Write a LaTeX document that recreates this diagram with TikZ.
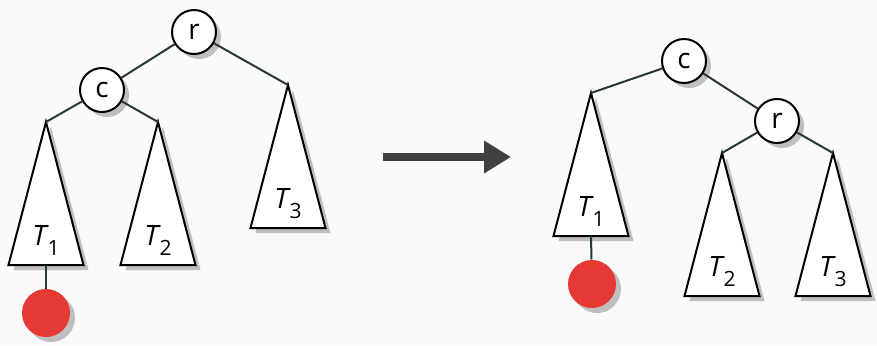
\documentclass[tikz,border=0pt]{standalone}
\usepackage{fontspec}
\setmainfont{Open Sans}
\usepackage{xcolor}
\usepackage{tikz}
\usetikzlibrary{arrows.meta, calc, shadows}

\definecolor{bgcol}{HTML}{FAFAFA}
\definecolor{edgecol}{HTML}{263838}
\definecolor{leafred}{HTML}{E53935}
\definecolor{arrowgray}{HTML}{404040}

\newcommand{\tlab}[1]{\textit{T}\kern-0.5pt\raisebox{-5pt}{\fontsize{10.5}{12}\selectfont #1}}

\begin{document}
\begin{tikzpicture}[
  x=0.5pt, y=-0.5pt,
  shadowed/.style={drop shadow={shadow xshift=2.5pt, shadow yshift=-2.5pt, fill=black!25, opacity=1}},
  key/.style={circle, draw, fill=white, line width=1pt, minimum size=22pt, inner sep=0pt, shadowed, font=\fontsize{14}{16}\selectfont},
  tri/.style={draw, fill=white, line width=1pt, shadowed},
  leaf/.style={circle, fill=leafred, minimum size=24pt, inner sep=0pt, shadowed},
  edge/.style={draw=edgecol, line width=1pt},
  lab/.style={anchor=base, font=\fontsize{14}{16}\selectfont},
  arrow/.style={line width=4pt, draw=arrowgray, -{Triangle[length=13.5pt, width=15.5pt]}}
]
\useasboundingbox[fill=bgcol] (0,0) rectangle (877,345);

% before the rotation
\coordinate (L1) at (46,122);
\coordinate (L2) at (158,122);
\coordinate (L3) at (288,85);
\foreach \t in {L1,L2,L3}
  \path[tri] (\t) -- ++(37.5,143) -- ++(-75,0) -- cycle;
\node[lab] (tl1) at ($(L1)+(0,123)$) {\tlab{1}};
\node[lab] (tl2) at ($(L2)+(0,123)$) {\tlab{2}};
\node[lab] (tl3) at ($(L3)+(0,123)$) {\tlab{3}};
\coordinate (bl1) at ($(L1)+(0,143)$);

\node[key] (r1) at (194,32) {r};
\node[key] (c1) at (102,90) {c};
\node[leaf] (x1) at (46,313) {};

\draw[edge] (r1) -- (c1);
\draw[edge] (c1) -- (L1);
\draw[edge] (c1) -- (L2);
\draw[edge] (r1) -- (L3);
\draw[edge] (bl1) -- (x1);

% the arrow
\coordinate (a0) at (383,157);
\coordinate (a1) at (511,157);
\draw[arrow] (a0) -- (a1);

% after the rotation
\coordinate (R1) at (591,93);
\coordinate (R2) at (722,153);
\coordinate (R3) at (833,153);
\foreach \t in {R1,R2,R3}
  \path[tri] (\t) -- ++(37.5,143) -- ++(-75,0) -- cycle;
\node[lab] (tr1) at ($(R1)+(0,123)$) {\tlab{1}};
\node[lab] (tr2) at ($(R2)+(0,123)$) {\tlab{2}};
\node[lab] (tr3) at ($(R3)+(0,123)$) {\tlab{3}};
\coordinate (br1) at ($(R1)+(0,143)$);

\node[key] (c2) at (684,61) {c};
\node[key] (r2) at (777,121) {r};
\node[leaf] (x2) at (592,284) {};

\draw[edge] (c2) -- (r2);
\draw[edge] (c2) -- (R1);
\draw[edge] (r2) -- (R2);
\draw[edge] (r2) -- (R3);
\draw[edge] (br1) -- (x2);
\end{tikzpicture}
\end{document}
